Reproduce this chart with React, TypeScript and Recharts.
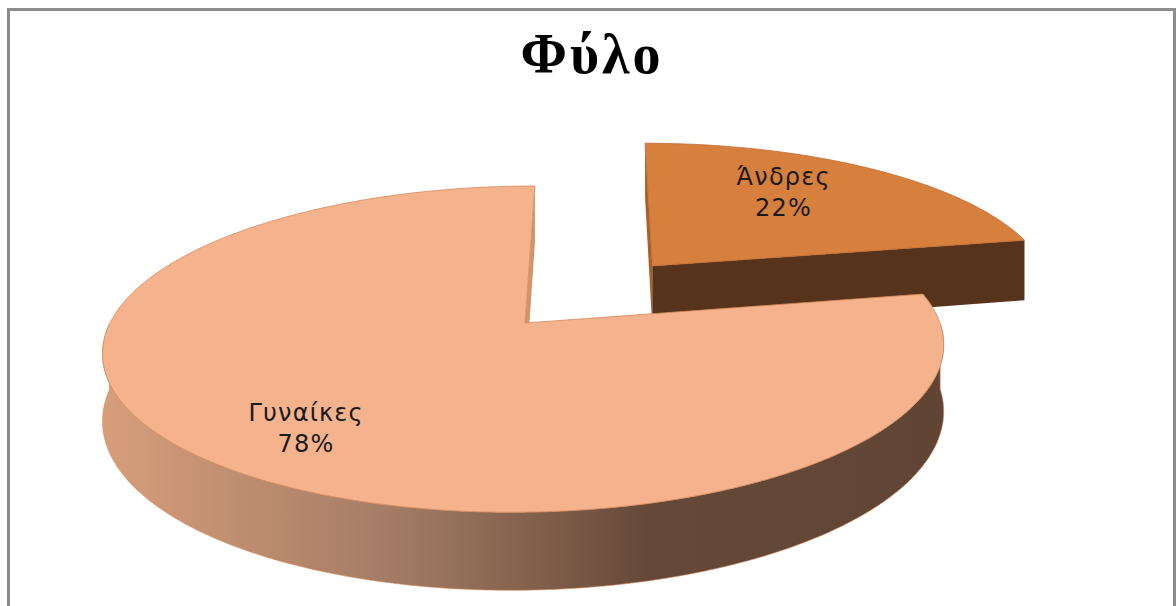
import React from "react";
import { PieChart, Pie } from "recharts";

// chart data
const CATEGORIES = ["Άνδρες", "Γυναίκες"];
const VALUES = [22, 78];
const TITLE = "Φύλο";

const data = CATEGORIES.map((name, i) => ({ name, value: VALUES[i] }));

// 3D look (Excel style tilted pie)
const TILT = 0.383; // vertical squash of the disc
const PERSP = 0.16; // perspective strength
const DEPTH = 0.158; // slab thickness, fraction of radius
const VX_OFF = 72; // vanishing point offset (px) right of centre

const EXPLODE: Record<string, number> = { "Άνδρες": 0.494 };

const TOP_COLORS: Record<string, string> = {
  "Άνδρες": "#D77F3D",
  "Γυναίκες": "#F5B38D",
};
const EDGE_COLORS: Record<string, string> = {
  "Άνδρες": "#C06A30",
  "Γυναίκες": "#D38A5C",
};
const SIDE_FILL: Record<string, string> = {
  "Άνδρες": "#58341A",
  "Γυναίκες": "url(#sideGrad)",
};
const CUT_COLORS: Record<string, { start: string; end: string }> = {
  "Άνδρες": { start: "#A95F2A", end: "#56331A" },
  "Γυναίκες": { start: "#5E4334", end: "#D5936B" },
};
// label placement: angle nudge (deg) and radius fraction
const LABEL_PLACE: Record<string, { shift: number; r: number }> = {
  "Άνδρες": { shift: 6, r: 0.68 },
  "Γυναίκες": { shift: 2.1, r: 0.756 },
};

const RAD = Math.PI / 180;

const project = (cx: number, cy: number, R: number, X: number, Z: number, Y: number) => {
  const w = 1 / (1 + PERSP * Z);
  return [cx + VX_OFF + (R * X - VX_OFF) * w, cy + (-R * TILT * Z + Y) * w];
};

const pts = (list: number[][]) =>
  list.map((p, i) => `${i ? "L" : "M"}${p[0].toFixed(2)},${p[1].toFixed(2)}`).join(" ") + " Z";

const area = (list: number[][]) => {
  let s = 0;
  for (let i = 0; i < list.length; i++) {
    const a = list[i];
    const b = list[(i + 1) % list.length];
    s += a[0] * b[1] - b[0] * a[1];
  }
  return s;
};

const Slice3D = (props: any) => {
  const { cx, cy, outerRadius: R, startAngle, endAngle } = props;
  const name = props.name ?? props.payload?.name;
  const mid = props.midAngle ?? (startAngle + endAngle) / 2;
  const e = EXPLODE[name] ?? 0;
  const ox = e * Math.cos(mid * RAD);
  const oz = e * Math.sin(mid * RAD);
  const depth = DEPTH * R;

  const rim = (a: number, Y: number) =>
    project(cx, cy, R, ox + Math.cos(a * RAD), oz + Math.sin(a * RAD), Y);
  const apex = (Y: number) => project(cx, cy, R, ox, oz, Y);

  const steps = Math.max(2, Math.ceil(Math.abs(endAngle - startAngle) * 2));
  const angles: number[] = [];
  for (let i = 0; i <= steps; i++) angles.push(startAngle + ((endAngle - startAngle) * i) / steps);

  // top face
  const top = [apex(0), ...angles.map((a) => rim(a, 0))];

  // outer side, only the front half of the rim
  const sides: number[][][] = [];
  let run: number[] = [];
  angles.forEach((a) => {
    if (Math.sin(a * RAD) <= 0.001) run.push(a);
    else if (run.length) {
      sides.push([...run.map((r) => rim(r, 0)), ...run.slice().reverse().map((r) => rim(r, depth))]);
      run = [];
    }
  });
  if (run.length > 1)
    sides.push([...run.map((r) => rim(r, 0)), ...run.slice().reverse().map((r) => rim(r, depth))]);

  // radial cut faces, back-face culled in screen space
  const cut = (a: number) => [apex(0), rim(a, 0), rim(a, depth), apex(depth)];
  const startFace = cut(startAngle);
  const endFace = cut(endAngle);
  const cuts = CUT_COLORS[name] ?? { start: "#777", end: "#777" };

  return (
    <g>
      <defs>
        <linearGradient id="sideGrad" gradientUnits="userSpaceOnUse" x1={cx - R} y1={0} x2={cx + R} y2={0}>
          <stop offset="0" stopColor="#D69D7A" />
          <stop offset="0.33" stopColor="#A57D66" />
          <stop offset="0.5" stopColor="#85624E" />
          <stop offset="0.65" stopColor="#654838" />
          <stop offset="1" stopColor="#604535" />
        </linearGradient>
      </defs>
      {area(startFace) < 0 && <path d={pts(startFace)} fill={cuts.start} />}
      {area(endFace) > 0 && <path d={pts(endFace)} fill={cuts.end} />}
      {sides.map((s, i) => (
        <path key={i} d={pts(s)} fill={SIDE_FILL[name]} stroke={EDGE_COLORS[name]} strokeWidth={0.6} />
      ))}
      <path d={pts(top)} fill={TOP_COLORS[name]} stroke={EDGE_COLORS[name]} strokeWidth={0.8} />
    </g>
  );
};

const renderLabel = (props: any) => {
  const { cx, cy, outerRadius: R, value } = props;
  const name = props.name ?? props.payload?.name;
  const mid = props.midAngle;
  const total = VALUES.reduce((s, v) => s + v, 0);
  const pct = Math.round(((props.percent ?? value / total) as number) * 100);
  const e = EXPLODE[name] ?? 0;
  const place = LABEL_PLACE[name] ?? { shift: 0, r: 0.7 };
  const a = (mid + place.shift) * RAD;
  const [x, y] = project(
    cx,
    cy,
    R,
    e * Math.cos(mid * RAD) + place.r * Math.cos(a),
    e * Math.sin(mid * RAD) + place.r * Math.sin(a),
    0
  );
  const style = { fontFamily: "DejaVu Sans", fontSize: 24, letterSpacing: 1.2 };
  return (
    <g>
      <text x={x} y={y - 7.5} textAnchor="middle" fill="#1a1a1a" style={style}>
        {name}
      </text>
      <text x={x} y={y + 23.5} textAnchor="middle" fill="#1a1a1a" style={style}>
        {pct}%
      </text>
    </g>
  );
};

export default function App() {
  return (
    <div
      style={{
        position: "fixed",
        left: 7,
        top: 8,
        width: 1169,
        height: 640,
        boxSizing: "border-box",
        border: "3px solid #8c8c8c",
        borderBottom: "none",
        background: "#fff",
        overflow: "hidden",
      }}
    >
      <svg width={1163} height={100} style={{ position: "absolute", left: 0, top: 0 }}>
        <text
          x={582}
          y={62}
          textAnchor="middle"
          style={{ fontFamily: "Liberation Serif", fontWeight: "bold", fontSize: 56, letterSpacing: 3 }}
        >
          {TITLE}
        </text>
      </svg>
      <PieChart width={1163} height={600} margin={{ top: 0, right: 0, bottom: 0, left: 0 }}>
        <Pie
          data={data}
          dataKey="value"
          nameKey="name"
          cx={515}
          cy={312}
          outerRadius={415}
          startAngle={90}
          endAngle={-270}
          stroke="none"
          shape={Slice3D}
          label={renderLabel}
          labelLine={false}
          isAnimationActive={false}
        />
      </PieChart>
    </div>
  );
}
